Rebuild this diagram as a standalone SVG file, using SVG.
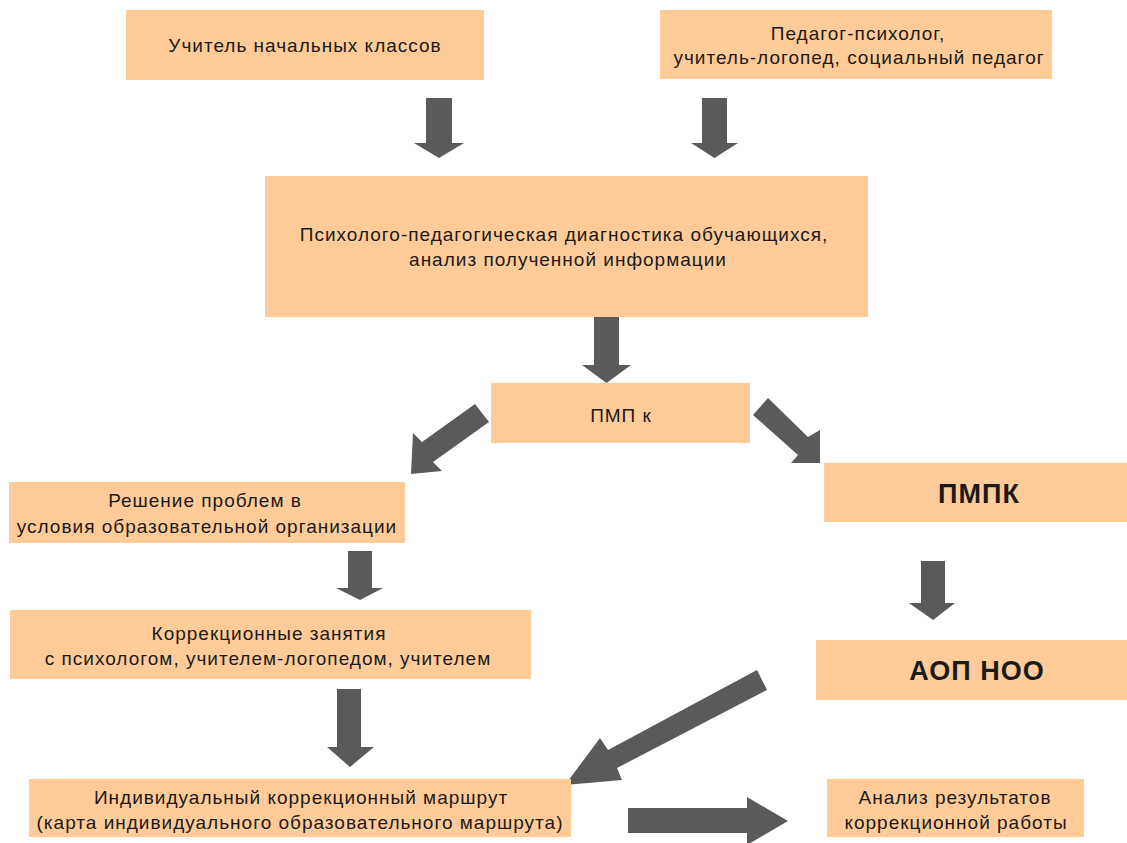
<svg xmlns="http://www.w3.org/2000/svg" width="1127" height="843" viewBox="0 0 1127 843">
<style>
.box{fill:#FFCC99;}
.t{font-family:"Liberation Sans",Arial,sans-serif;font-size:19px;letter-spacing:1px;fill:#1a1a1a;text-anchor:middle;}
.b{font-family:"Liberation Sans",Arial,sans-serif;font-size:27px;letter-spacing:1px;font-weight:bold;fill:#1a1a1a;text-anchor:middle;}
.arr{fill:#5a5a5a;}
</style>
<rect width="1127" height="843" fill="#ffffff"/>
<g id="connectors">
<polygon class="arr" points="426,98 452,98 452,143 464,143 439,158 414,143 426,143"/>
<polygon class="arr" points="702,98 727,98 727,143 738,143 714.5,158 691,143 702,143"/>
<polygon class="arr" points="594,305 619,305 619,365 631,365 606.5,383 582,365 594,365"/>
<polygon class="arr" points="475,404 489,422 433,462 442,471 411,474 413,433 422,442"/>
<polygon class="arr" points="768,398 808,437 820,430 820,463 791,463 798,455 753,415"/>
<polygon class="arr" points="348,551 372,551 372,588 383,588 360,600 336,588 348,588"/>
<polygon class="arr" points="921,561 945,561 945,603 955,603 933,620 909,603 921,603"/>
<polygon class="arr" points="337,689 361,689 361,747 374,747 350,767 327,747 337,747"/>
<polygon class="arr" points="757,670 608,750 600,738 565,785 622,780 617,768 767,690"/>
<polygon class="arr" points="628,808 747,808 747,797 788,821 747,845 747,833 628,833"/>
</g>
<g id="n1"><rect class="box" x="126" y="10" width="358" height="70"/><text class="t" x="305" y="52">Учитель начальных классов</text></g>
<g id="n2"><rect class="box" x="660" y="10" width="392" height="69"/><text class="t" x="858" y="40">Педагог-психолог,</text><text class="t" x="859" y="64">учитель-логопед, социальный педагог</text></g>
<g id="n3"><rect class="box" x="265" y="176" width="603" height="141"/><text class="t" x="564" y="241">Психолого-педагогическая диагностика обучающихся,</text><text class="t" x="568" y="266">анализ полученной информации</text></g>
<g id="n4"><rect class="box" x="491" y="383" width="259" height="60"/><text class="t" x="621" y="422">ПМП к</text></g>
<g id="n5"><rect class="box" x="9" y="482" width="396" height="61"/><text class="t" x="205" y="507">Решение проблем в</text><text class="t" x="207" y="533">условия образовательной организации</text></g>
<g id="n6"><rect class="box" x="824" y="463" width="303" height="59"/><text class="b" x="979" y="503">ПМПК</text></g>
<g id="n7"><rect class="box" x="10" y="610" width="521" height="69"/><text class="t" x="269" y="640">Коррекционные занятия</text><text class="t" x="268" y="665">с психологом, учителем-логопедом, учителем</text></g>
<g id="n8"><rect class="box" x="816" y="640" width="311" height="60"/><text class="b" x="977" y="680">АОП НОО</text></g>
<g id="n9"><rect class="box" x="29" y="779" width="542" height="58"/><text class="t" x="301" y="804">Индивидуальный коррекционный маршрут</text><text class="t" x="300" y="829">(карта индивидуального образовательного маршрута)</text></g>
<g id="n10"><rect class="box" x="827" y="779" width="257" height="58"/><text class="t" x="955" y="804">Анализ результатов</text><text class="t" x="956" y="829">коррекционной работы</text></g>
</svg>
